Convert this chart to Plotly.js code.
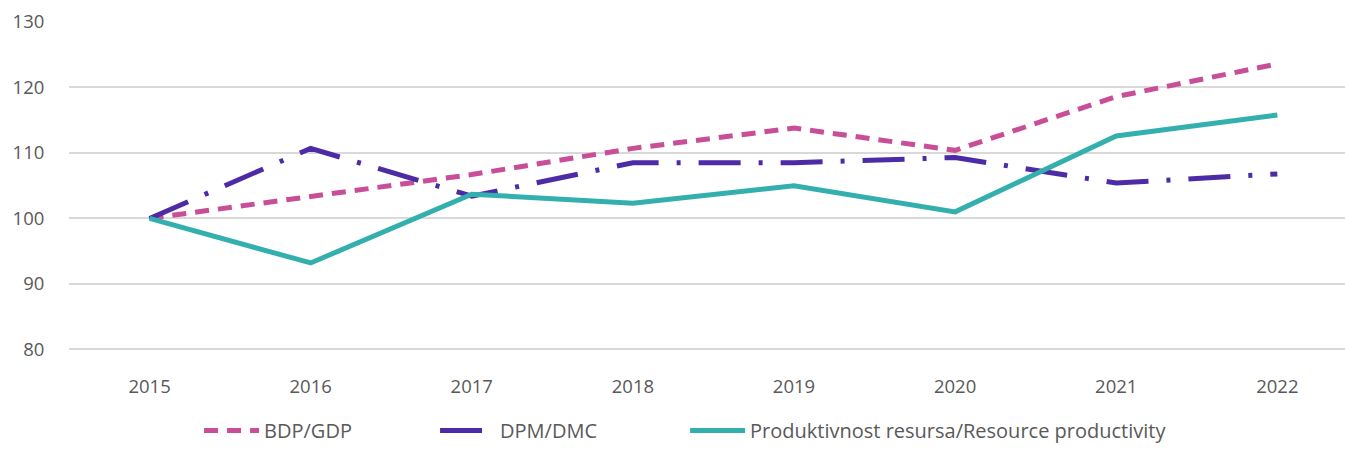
<!DOCTYPE html>
<html><head><meta charset="utf-8">
<script src="https://cdn.plot.ly/plotly-3.0.1.min.js"></script>
<style>html,body{margin:0;padding:0;background:#fff}#chart{width:1345px;height:450px}</style>
</head><body><div id="chart"></div>
<script>
const years = ["2015","2016","2017","2018","2019","2020","2021","2022"];
const bdpGdp = [100, 103.3, 106.7, 110.7, 113.8, 110.4, 118.6, 123.6];
const dpmDmc = [100, 110.7, 103.4, 108.5, 108.5, 109.3, 105.4, 106.8];
const productivity = [100, 93.2, 103.7, 102.3, 105.0, 101.0, 112.6, 115.8];
const seriesNames = ["BDP/GDP", "DPM/DMC", "Produktivnost resursa/Resource productivity"];

const traces = [
  {x: years, y: bdpGdp, name: seriesNames[0], type: "scatter", mode: "lines", legendwidth: 166,
   line: {color: "#C84E98", width: 5, dash: "14px,9px"}},
  {x: years, y: dpmDmc, name: seriesNames[1], type: "scatter", mode: "lines", legendwidth: 180,
   line: {color: "#4E2BA6", width: 5, dash: "42px,18px,4px,18px"}},
  {x: years, y: productivity, name: seriesNames[2], type: "scatter", mode: "lines",
   line: {color: "#33B0AE", width: 5}}
];

const layout = {
  width: 1345, height: 450,
  margin: {l: 69, r: 0, t: 21, b: 98, autoexpand: false},
  paper_bgcolor: "#fff", plot_bgcolor: "#fff",
  font: {family: "'Open Sans', sans-serif", size: 18, color: "#595959"},
  xaxis: {type: "category", range: [-0.5, 7.42], showgrid: false, zeroline: false, automargin: false,
          showline: false, ticks: "outside", ticklen: 18, tickcolor: "rgba(0,0,0,0)",
          tickfont: {size: 18.5, color: "#595959"}},
  yaxis: {range: [79.6, 130.15], tickvals: [80, 90, 100, 110, 120, 130], showgrid: true, gridcolor: "#D9D9D9", gridwidth: 2,
          zeroline: false, showline: false, automargin: false, ticks: "outside", ticklen: 20, tickcolor: "rgba(0,0,0,0)",
          tickfont: {size: 18.5, color: "#595959"}},
  showlegend: true,
  legend: {orientation: "h", xref: "container", yref: "container", x: 0.148, xanchor: "left", y: 0.0, yanchor: "bottom",
           itemwidth: 55, font: {size: 20, color: "#595959"}, traceorder: "normal"}
};
Plotly.newPlot("chart", traces, layout, {displayModeBar: false, staticPlot: true});
</script></body></html>
